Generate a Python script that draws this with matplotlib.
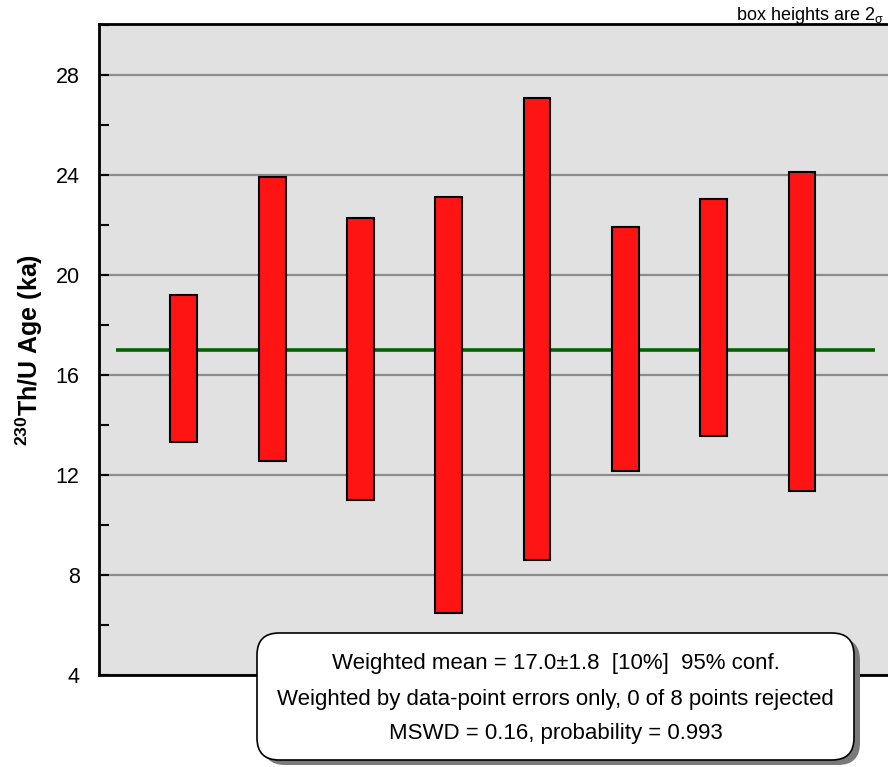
import matplotlib
matplotlib.use("Agg")
import matplotlib.pyplot as plt
from matplotlib.patches import FancyBboxPatch
from matplotlib.ticker import MultipleLocator
import numpy as np

plt.rcParams["font.family"] = ["Liberation Sans", "DejaVu Sans"]
plt.rcParams["mathtext.fontset"] = "custom"
plt.rcParams["mathtext.rm"] = "Liberation Sans"
plt.rcParams["mathtext.bf"] = "Liberation Sans:bold"
plt.rcParams["mathtext.it"] = "Liberation Sans:italic"

# 230Th/U ages (ka) and their 2-sigma uncertainties
ages = [16.27, 18.25, 16.64, 14.81, 17.85, 17.05, 18.30, 17.74]
errors_2s = [2.94, 5.68, 5.65, 8.32, 9.25, 4.88, 4.74, 6.38]
weighted_mean = 17.0
yticks = [4, 8, 12, 16, 20, 24, 28]
summary_lines = [
    "Weighted mean = 17.0\u00b11.8  [10%]  95% conf.",
    "Weighted by data-point errors only, 0 of 8 points rejected",
    "MSWD = 0.16, probability = 0.993",
]

W, H = 888, 767
fig = plt.figure(figsize=(W / 100, H / 100), dpi=100)

# plot frame (pixel layout)
left, right, top, bottom = 99, 891, 24, 675
ax = fig.add_axes([left / W, 1 - bottom / H, (right - left) / W, (bottom - top) / H])
ax.set_facecolor("#e1e1e1")

spacing = 88.33  # pixels per sample slot
x0 = 1 + (left - 183.7) / spacing
ax.set_xlim(x0, x0 + (right - left) / spacing)
ax.set_ylim(4, 30.04)

ages_a = np.array(ages)
err_a = np.array(errors_2s)
xpos = np.arange(1, len(ages) + 1)

ax.bar(xpos, 2 * err_a, bottom=ages_a - err_a, width=0.305,
       color="#ff1414", edgecolor="black", linewidth=1.5, zorder=3)
ax.plot([0.23, len(ages) + 0.83], [weighted_mean, weighted_mean],
        color="#006400", linewidth=2.6, zorder=2, solid_capstyle="butt")

ax.set_yticks(yticks)
ax.yaxis.set_minor_locator(MultipleLocator(2))
ax.set_xticks([])
ax.tick_params(axis="y", which="major", direction="in", length=7, width=1.5,
               pad=14, labelsize=15.5)
ax.tick_params(axis="y", which="minor", direction="in", length=7, width=1.5)
ax.yaxis.grid(True, which="major", color="#8c8c8c", linewidth=1.6)
ax.set_axisbelow(True)

for side in ("left", "top", "bottom"):
    ax.spines[side].set_linewidth(2)
    ax.spines[side].set_color("black")
ax.spines["right"].set_visible(False)

fig.text(29 / W, 1 - 350 / H, r"$^{\mathbf{230}}$Th/U Age (ka)", rotation=90,
         fontsize=18, fontweight="bold", ha="center", va="center")
fig.text(884 / W, 1 - 20 / H, "box heights are 2$_{\\mathrm{\u03c3}}$",
         ha="right", va="baseline", fontsize=13)

# summary box with drop shadow, drawn in pixel space
ov = fig.add_axes([0, 0, 1, 1])
ov.set_xlim(0, W)
ov.set_ylim(H, 0)
ov.axis("off")
bx, by, bw, bh = 257, 633, 597, 127
shadow = FancyBboxPatch((bx + 6, by + 5), bw, bh,
                        boxstyle="round,pad=0,rounding_size=22",
                        facecolor="#7a7a7a", edgecolor="none")
box = FancyBboxPatch((bx, by), bw, bh,
                     boxstyle="round,pad=0,rounding_size=22",
                     facecolor="white", edgecolor="black", linewidth=1.2)
ov.add_patch(shadow)
ov.add_patch(box)
for i, line in enumerate(summary_lines):
    ov.text(bx + bw / 2, 664 + 35 * i, line, ha="center", va="center",
            fontsize=16)

fig.savefig("out.png", dpi=100)
